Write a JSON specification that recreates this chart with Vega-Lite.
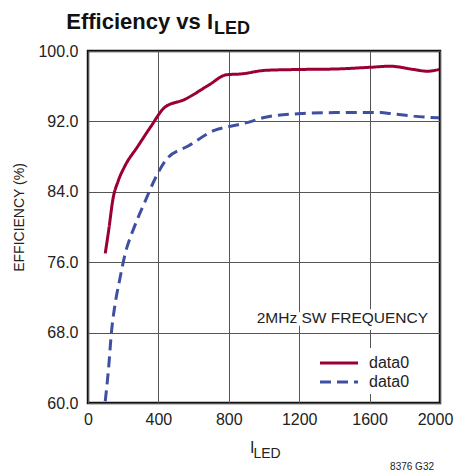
{
  "$schema": "https://vega.github.io/schema/vega-lite/v6.json",
  "width": 352,
  "height": 352,
  "autosize": {"type": "none"},
  "padding": {"left": 88, "top": 51, "right": 17, "bottom": 70},
  "background": "white",
  "config": {
    "font": "Liberation Sans, Arial, sans-serif",
    "view": {"stroke": "#111111", "strokeWidth": 2.5},
    "axis": {"gridColor": "#555555", "gridOpacity": 1, "gridWidth": 1, "domain": false, "ticks": false, "labelFont": "Liberation Sans, Arial, sans-serif", "labelColor": "#222222", "titleColor": "#222222", "labelFontSize": 16, "titleFontWeight": "normal", "titleFont": "Liberation Sans, Arial, sans-serif"}
  },
  "title": {
    "text": "Efficiency vs I",
    "anchor": "start",
    "frame": "group",
    "align": "right",
    "dx": 125,
    "offset": -31,
    "baseline": "alphabetic",
    "fontSize": 22,
    "fontWeight": "bold",
    "color": "#111111",
    "font": "Liberation Sans, Arial, sans-serif"
  },
  "datasets": {
    "curves": [
      {"s": "A", "x": 98, "y": 77.0},
      {"s": "A", "x": 118, "y": 79.7},
      {"s": "A", "x": 142, "y": 83.2},
      {"s": "A", "x": 171, "y": 85.2},
      {"s": "A", "x": 209, "y": 86.9},
      {"s": "A", "x": 284, "y": 89.2},
      {"s": "A", "x": 360, "y": 91.5},
      {"s": "A", "x": 436, "y": 93.6},
      {"s": "A", "x": 550, "y": 94.5},
      {"s": "A", "x": 684, "y": 96.1},
      {"s": "A", "x": 788, "y": 97.3},
      {"s": "A", "x": 873, "y": 97.4},
      {"s": "A", "x": 1006, "y": 97.8},
      {"s": "A", "x": 1200, "y": 97.9},
      {"s": "A", "x": 1400, "y": 97.95},
      {"s": "A", "x": 1604, "y": 98.15},
      {"s": "A", "x": 1718, "y": 98.27},
      {"s": "A", "x": 1850, "y": 97.9},
      {"s": "A", "x": 1927, "y": 97.7},
      {"s": "A", "x": 1995, "y": 97.9},
      {"s": "B", "x": 98, "y": 60.2},
      {"s": "B", "x": 118, "y": 64.2},
      {"s": "B", "x": 133, "y": 68.0},
      {"s": "B", "x": 152, "y": 71.0},
      {"s": "B", "x": 180, "y": 74.0},
      {"s": "B", "x": 208, "y": 76.7},
      {"s": "B", "x": 265, "y": 80.1},
      {"s": "B", "x": 322, "y": 82.8},
      {"s": "B", "x": 389, "y": 85.8},
      {"s": "B", "x": 446, "y": 87.7},
      {"s": "B", "x": 569, "y": 89.2},
      {"s": "B", "x": 722, "y": 91.0},
      {"s": "B", "x": 797, "y": 91.4},
      {"s": "B", "x": 892, "y": 91.8},
      {"s": "B", "x": 1015, "y": 92.5},
      {"s": "B", "x": 1225, "y": 92.9},
      {"s": "B", "x": 1415, "y": 93.0},
      {"s": "B", "x": 1665, "y": 93.0},
      {"s": "B", "x": 1718, "y": 92.9},
      {"s": "B", "x": 1850, "y": 92.6},
      {"s": "B", "x": 1995, "y": 92.4}
    ]
  },
  "layer": [
    {
      "data": {"name": "curves"},
      "mark": {"type": "line", "strokeWidth": 3, "interpolate": "monotone"},
      "encoding": {
        "x": {
          "field": "x", "type": "quantitative",
          "scale": {"domain": [0, 2000], "nice": false, "zero": false},
          "axis": {"values": [0, 400, 800, 1200, 1600, 2000], "format": "d", "labelPadding": 8, "labelOffset": {"condition": {"test": "datum.value >= 2000", "value": -5}, "value": 0}, "title": "I", "titleFontSize": 16, "titleX": 166, "titleY": 49, "titleAlign": "right", "titleBaseline": "alphabetic", "labelFlush": false}
        },
        "y": {
          "field": "y", "type": "quantitative",
          "scale": {"domain": [60, 100], "nice": false, "zero": false},
          "axis": {"values": [60, 68, 76, 84, 92, 100], "format": ".1f", "labelPadding": 10, "title": "EFFICIENCY (%)", "titleFontSize": 14, "titleAngle": 270, "titleX": -69, "titleY": 166, "titleAlign": "center", "titleBaseline": "middle"}
        },
        "color": {
          "field": "s", "type": "nominal",
          "scale": {"domain": ["A", "B"], "range": ["#9b0030", "#3f50a2"]},
          "legend": {
            "title": null, "orient": "none", "legendX": 236, "legendY": 297,
            "labelExpr": "'data0'", "labelFontSize": 16, "labelColor": "#222222",
            "symbolType": "M-2,0H2", "symbolSize": 361, "symbolStrokeWidth": 3,
            "fillColor": "white", "padding": 4, "rowPadding": 0, "labelOffset": 19
          }
        },
        "strokeDash": {
          "field": "s", "type": "nominal",
          "scale": {"domain": ["A", "B"], "range": [[1, 0], [11, 6]]},
          "legend": {
            "title": null, "orient": "none", "legendX": 236, "legendY": 297,
            "labelExpr": "'data0'", "labelFontSize": 16, "labelColor": "#222222",
            "symbolType": "M-2,0H2", "symbolSize": 361, "symbolStrokeWidth": 3,
            "fillColor": "white", "padding": 4, "rowPadding": 0, "labelOffset": 19
          }
        }
      }
    },
    {
      "data": {"values": [{}]},
      "mark": {"type": "text", "align": "right", "baseline": "alphabetic", "fontSize": 15.5, "stroke": "white", "strokeWidth": 8, "strokeJoin": "round", "fill": "white"},
      "encoding": {"x": {"datum": 1932}, "y": {"datum": 69.1}, "text": {"value": "2MHz SW FREQUENCY"}}
    },
    {
      "data": {"values": [{}]},
      "mark": {"type": "text", "align": "right", "baseline": "alphabetic", "fontSize": 15.5, "fill": "#222222"},
      "encoding": {"x": {"datum": 1932}, "y": {"datum": 69.1}, "text": {"value": "2MHz SW FREQUENCY"}}
    },
    {
      "data": {"values": [{}]},
      "mark": {"type": "text", "align": "left", "baseline": "alphabetic", "fontSize": 14, "fill": "#222222"},
      "encoding": {"x": {"datum": 940}, "y": {"datum": 53.75}, "text": {"value": "LED"}}
    },
    {
      "data": {"values": [{}]},
      "mark": {"type": "text", "align": "left", "baseline": "alphabetic", "fontSize": 18, "fontWeight": "bold", "fill": "#111111"},
      "encoding": {"x": {"datum": 716}, "y": {"datum": 101.95}, "text": {"value": "LED"}}
    },
    {
      "data": {"values": [{}]},
      "mark": {"type": "text", "align": "right", "baseline": "alphabetic", "fontSize": 10, "fill": "#222222"},
      "encoding": {"x": {"datum": 1966}, "y": {"datum": 52.4}, "text": {"value": "8376 G32"}}
    }
  ]
}
